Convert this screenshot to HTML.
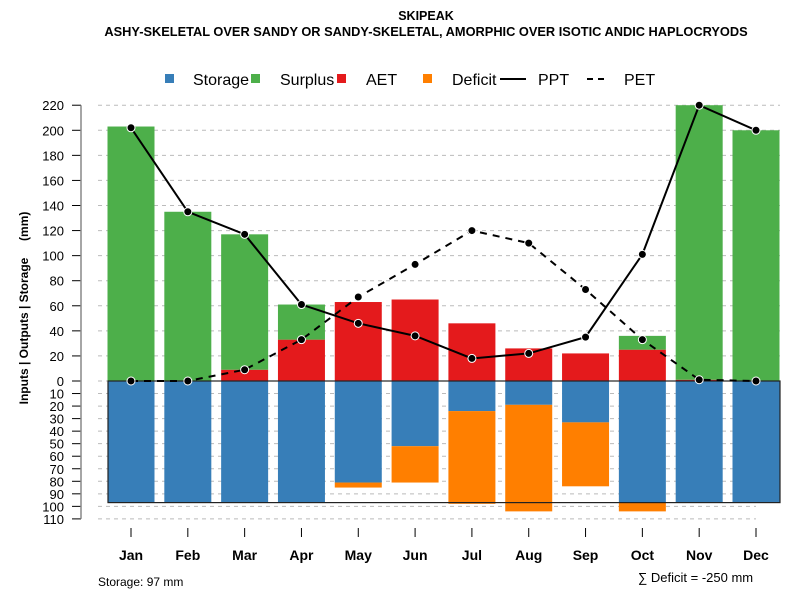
<!DOCTYPE html>
<html><head><meta charset="utf-8"><style>
body{margin:0;background:#fff;}
svg text{font-family:"Liberation Sans",Arial,sans-serif;}
</style></head><body>
<svg id="chart" width="800" height="600" xmlns="http://www.w3.org/2000/svg">
<text x="426" y="20" text-anchor="middle" font-size="12.5" font-weight="bold">SKIPEAK</text>
<text x="426" y="36" text-anchor="middle" font-size="12.8" font-weight="bold">ASHY-SKELETAL OVER SANDY OR SANDY-SKELETAL, AMORPHIC OVER ISOTIC ANDIC HAPLOCRYODS</text>
<g id="grid"></g>
<g id="bars"></g>
<g id="lines"></g>
<g id="axes"></g>
<g>
<rect x="165" y="74" width="9" height="9" fill="#377eb8"/>
<text x="193" y="85" font-size="16">Storage</text>
<rect x="251" y="74" width="9" height="9" fill="#4daf4a"/>
<text x="280" y="85" font-size="16">Surplus</text>
<rect x="337" y="74" width="9" height="9" fill="#e41a1c"/>
<text x="366" y="85" font-size="16">AET</text>
<rect x="423" y="74" width="9" height="9" fill="#ff7f00"/>
<text x="452" y="85" font-size="16">Deficit</text>
<line x1="500" y1="79" x2="526" y2="79" stroke="#000" stroke-width="2"/>
<text x="538" y="85" font-size="16">PPT</text>
<line x1="587" y1="79" x2="609" y2="79" stroke="#000" stroke-width="2" stroke-dasharray="6,5"/>
<text x="624" y="85" font-size="16">PET</text>
</g>
<text transform="translate(28,308) rotate(-90)" text-anchor="middle" font-size="12" font-weight="bold">Inputs | Outputs | Storage&#160;&#160;&#160;&#160;&#160;(mm)</text>
<text x="98" y="586" font-size="12">Storage: 97 mm</text>
<text x="638" y="582" font-size="13">∑ Deficit = -250 mm</text>
</svg>
<script>
const months=["Jan","Feb","Mar","Apr","May","Jun","Jul","Aug","Sep","Oct","Nov","Dec"];
const storage=[97,97,97,97,81,52,24,19,33,97,97,97];
const deficit=[0,0,0,0,4,29,74,85,51,7,0,0];
const aet=[0,0,9,33,63,65,46,26,22,25,1,0];
const surplus=[203,135,108,28,0,0,0,0,0,11,219,200];
const ppt=[202,135,117,61,46,36,18,22,35,101,220,200];
const pet=[0,0,9,33,67,93,120,110,73,33,1,0];
const upTicks=[0,20,40,60,80,100,120,140,160,180,200,220];
const downTicks=[10,20,30,40,50,60,70,80,90,100,110];
const capacity=97;
const NS="http://www.w3.org/2000/svg";
const y0=381,k=1.2536;
const yU=v=>y0-v*k, yD=v=>y0+v*k;
const xM=i=>131+i*(756-131)/11;
const bw=47;
function mk(p,t,a){const e=document.createElementNS(NS,t);for(const q in a)e.setAttribute(q,a[q]);document.getElementById(p).appendChild(e);return e;}
upTicks.forEach(v=>{
 const g=mk('grid','line',{x1:98,x2:780,y1:yU(v),y2:yU(v),stroke:'#bbb','stroke-dasharray':'4,4'});
 
 
 const t=mk('axes','line',{x1:72,x2:81,y1:yU(v),y2:yU(v),stroke:'#000'});
 
 
 const l=mk('axes','text',{x:64,y:yU(v)+5,'text-anchor':'end','font-size':13});
 l.textContent=v;
 
 
});
downTicks.forEach(v=>{
 const g=mk('grid','line',{x1:98,x2:756,y1:yD(v),y2:yD(v),stroke:'#bbb','stroke-dasharray':'4,4'});
 
 
 const t=mk('axes','line',{x1:72,x2:81,y1:yD(v),y2:yD(v),stroke:'#000'});
 
 
 const l=mk('axes','text',{x:64,y:yD(v)+5,'text-anchor':'end','font-size':13});
 l.textContent=v;
 
 
});
const ax=mk('axes','line',{x1:81,x2:81,y1:yU(220),y2:yD(110),stroke:'#888','stroke-width':1.5});


months.forEach((m,i)=>{
 const x=xM(i);
 let r=mk('bars','rect',{x:x-bw/2,y:yU(aet[i]),width:bw,height:aet[i]*k,fill:'#e41a1c'});
 
 
 r=mk('bars','rect',{x:x-bw/2,y:yU(aet[i]+surplus[i]),width:bw,height:surplus[i]*k,fill:'#4daf4a'});
 
 
 r=mk('bars','rect',{x:x-bw/2,y:y0,width:bw,height:storage[i]*k,fill:'#377eb8'});
 
 
 r=mk('bars','rect',{x:x-bw/2,y:yD(storage[i]),width:bw,height:deficit[i]*k,fill:'#ff7f00'});
 
 
 const t=mk('axes','line',{x1:x,x2:x,y1:528,y2:537,stroke:'#000'});
 
 
 const l=mk('axes','text',{x:x,y:560,'text-anchor':'middle','font-size':14,'font-weight':'bold'});
 l.textContent=m;
 
 
});
const box=mk('bars','rect',{x:108,y:y0,width:672,height:capacity*k,fill:'none',stroke:'#222','stroke-width':1.2});


function series(arr,name,dash){
 const p=mk('lines','polyline',{points:arr.map((v,i)=>xM(i)+','+yU(v)).join(' '),fill:'none',stroke:'#000','stroke-width':2,'stroke-dasharray':dash});
 
 
 arr.forEach((v,i)=>{
  const c=mk('lines','circle',{cx:xM(i),cy:yU(v),r:4,fill:'#000',stroke:'#fff','stroke-width':1});
  
  
 });
}
series(pet,'pet','7,6');
series(ppt,'ppt','none');
</script>
</body></html>
